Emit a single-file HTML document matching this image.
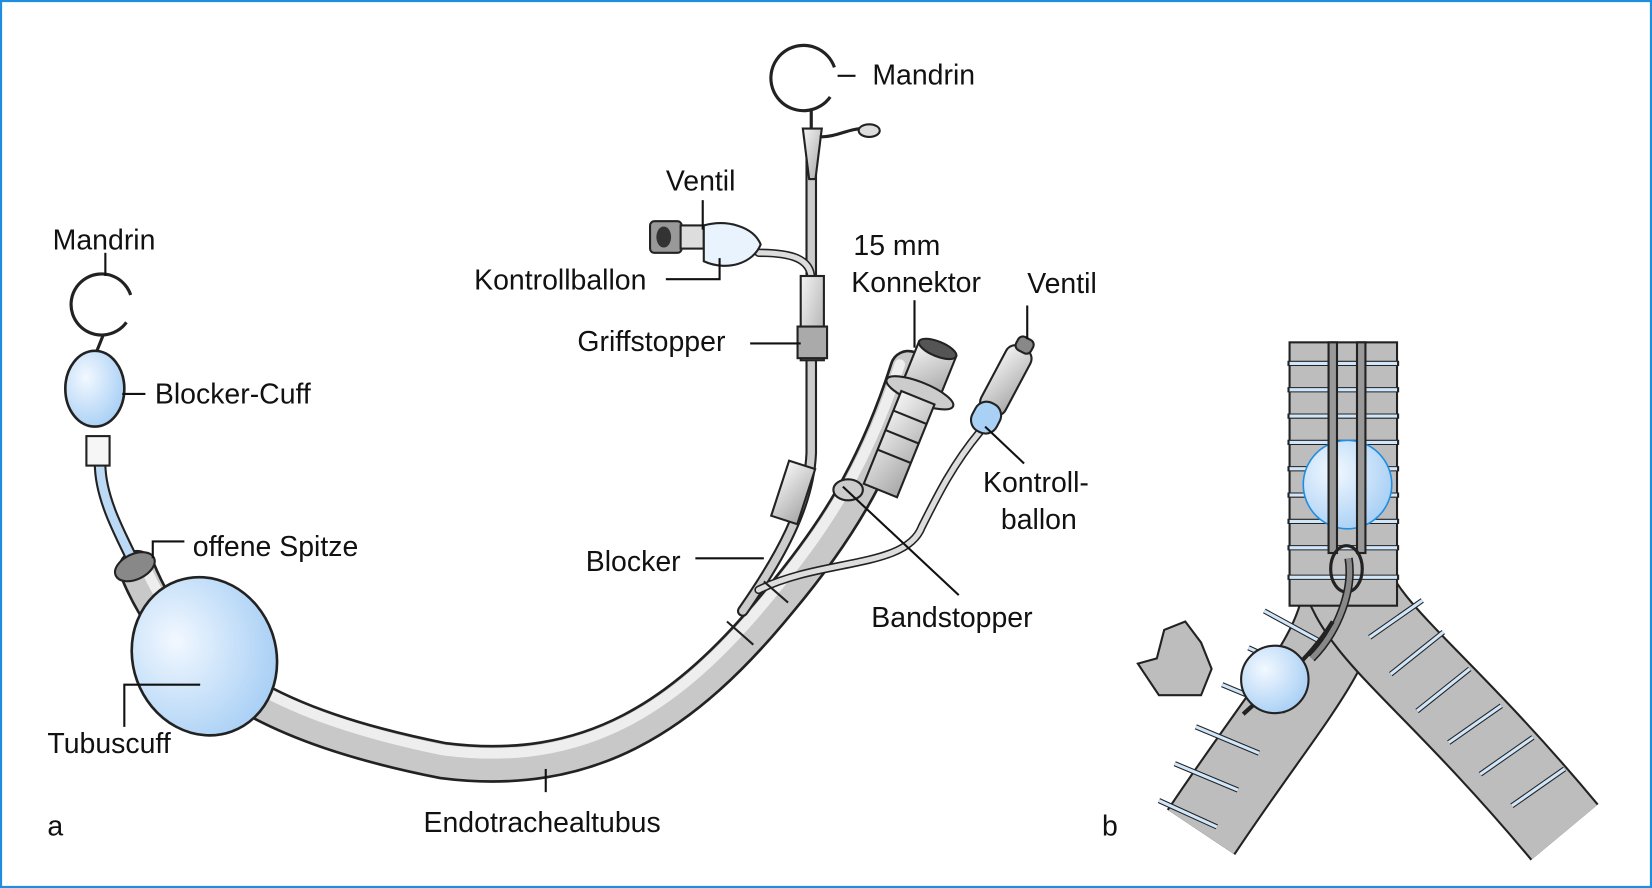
<!DOCTYPE html>
<html><head><meta charset="utf-8"><style>
html,body{margin:0;padding:0;background:#fff;}
svg{display:block;}
text{font-family:"Liberation Sans",sans-serif;font-size:27px;fill:#111;}
</style></head><body>
<svg width="1652" height="888" viewBox="0 0 1568 843" preserveAspectRatio="none" xmlns="http://www.w3.org/2000/svg">
<defs>
<linearGradient id="g" x1="0" y1="0" x2="1" y2="1"><stop offset="0" stop-color="#f4f4f4"/><stop offset="1" stop-color="#a8a8a8"/></linearGradient>
<radialGradient id="b" cx="0.35" cy="0.35" r="0.7"><stop offset="0" stop-color="#f2f8ff"/><stop offset="1" stop-color="#a9d0f5"/></radialGradient>
</defs>
<rect x="1" y="1" width="1566" height="841" fill="#fff" stroke="#1f8de0" stroke-width="2"/>
<g fill="none" stroke-linecap="round">
<path d="M130,540 C170,640 260,690 420,722 C560,740 650,680 740,570 C790,510 830,450 862,350" stroke="#222" stroke-width="36"/>
<path d="M130,540 C170,640 260,690 420,722 C560,740 650,680 740,570 C790,510 830,450 862,350" stroke="#c8c8c8" stroke-width="31"/>
<path d="M136,534 C176,630 264,680 420,712 C556,730 644,672 732,564 C782,504 822,444 854,346" stroke="#eeeeee" stroke-width="10"/>
<path d="M770,140 L770,430 C768,480 740,530 705,580" stroke="#222" stroke-width="11"/>
<path d="M770,140 L770,430 C768,480 740,530 705,580" stroke="#ccc" stroke-width="7"/>
<path d="M720,560 C780,530 860,540 875,500 C890,470 905,440 930,410" stroke="#222" stroke-width="8"/>
<path d="M720,560 C780,530 860,540 875,500 C890,470 905,440 930,410" stroke="#ddd" stroke-width="5"/>
<path d="M130,540 C110,500 95,470 95,440" stroke="#222" stroke-width="12"/>
<path d="M130,540 C110,500 95,470 95,440" stroke="#bcdaf6" stroke-width="8"/>
<path d="M720,240 C750,240 770,245 770,265" stroke="#222" stroke-width="8"/>
<path d="M720,240 C750,240 770,245 770,265" stroke="#ddd" stroke-width="5"/>
</g>
<ellipse cx="128" cy="538" rx="20" ry="12" transform="rotate(-25 128 538)" fill="#888" stroke="#222" stroke-width="2"/>
<ellipse cx="194" cy="623" rx="68" ry="76" transform="rotate(-20 194 623)" fill="url(#b)" stroke="#222" stroke-width="2.5"/>
<rect x="82" y="414" width="22" height="28" fill="#f6f6f6" stroke="#222" stroke-width="2"/>
<ellipse cx="90" cy="369" rx="28" ry="36" fill="url(#b)" stroke="#222" stroke-width="2.5"/>
<line x1="92" y1="333" x2="98" y2="318" stroke="#222" stroke-width="3"/>
<path d="M120,306 A29,29 0 1 1 124,280" fill="none" stroke="#222" stroke-width="3"/>
<path d="M788,92 A31,31 0 1 1 792,64" fill="none" stroke="#222" stroke-width="3"/>
<line x1="770" y1="104" x2="770" y2="125" stroke="#222" stroke-width="3"/>
<path d="M762,122 L780,122 L774,170 L768,170 Z" fill="url(#g)" stroke="#222" stroke-width="2"/>
<path d="M778,130 C795,130 805,122 820,122" fill="none" stroke="#222" stroke-width="3"/>
<ellipse cx="825" cy="124" rx="10" ry="6" fill="#ddd" stroke="#222" stroke-width="2"/>
<rect x="760" y="262" width="22" height="80" fill="url(#g)" stroke="#222" stroke-width="2"/>
<rect x="757" y="310" width="28" height="30" fill="#aaa" stroke="#222" stroke-width="2"/>
<rect x="740" y="440" width="26" height="55" transform="rotate(18 753 467)" fill="url(#g)" stroke="#222" stroke-width="2"/>
<rect x="617" y="210" width="30" height="30" rx="4" fill="#999" stroke="#222" stroke-width="2"/>
<ellipse cx="630" cy="225" rx="7" ry="10" fill="#333"/>
<rect x="646" y="214" width="22" height="22" fill="#ddd" stroke="#222" stroke-width="2"/>
<path d="M668,214 C690,208 715,215 722,232 C715,250 690,258 668,248 Z" fill="#e8f3fd" stroke="#222" stroke-width="2"/>
<g transform="rotate(22 860 400)">
<rect x="843" y="325" width="38" height="40" fill="url(#g)" stroke="#222" stroke-width="2"/>
<ellipse cx="862" cy="325" rx="19" ry="7" fill="#555" stroke="#222" stroke-width="2"/>
<ellipse cx="862" cy="370" rx="34" ry="10" fill="#ccc" stroke="#222" stroke-width="2"/>
<rect x="845" y="375" width="34" height="95" fill="url(#g)" stroke="#222" stroke-width="2"/>
<line x1="845" y1="395" x2="879" y2="395" stroke="#222" stroke-width="2"/>
<line x1="845" y1="415" x2="879" y2="415" stroke="#222" stroke-width="2"/>
<line x1="845" y1="435" x2="879" y2="435" stroke="#222" stroke-width="2"/>
</g>
<ellipse cx="805" cy="465" rx="14" ry="10" fill="#ccc" stroke="#222" stroke-width="2"/>
<g transform="rotate(28 950 370)">
<rect x="937" y="325" width="26" height="70" rx="10" fill="url(#g)" stroke="#222" stroke-width="2"/>
<rect x="937" y="385" width="26" height="30" rx="12" fill="#a9d0f5" stroke="#222" stroke-width="2"/>
<rect x="942" y="315" width="16" height="14" rx="5" fill="#888" stroke="#222" stroke-width="2"/>
</g>
<line x1="690" y1="590" x2="715" y2="612" stroke="#222" stroke-width="2"/>
<line x1="725" y1="552" x2="748" y2="572" stroke="#222" stroke-width="2"/>
<g stroke="#111" stroke-width="2" fill="none">
<line x1="795" y1="72" x2="812" y2="72"/>
<line x1="667" y1="190" x2="667" y2="218"/>
<polyline points="632,265 683,265 683,245"/>
<line x1="712" y1="326" x2="760" y2="326"/>
<line x1="868" y1="285" x2="868" y2="330"/>
<line x1="975" y1="290" x2="975" y2="322"/>
<line x1="100" y1="240" x2="100" y2="262"/>
<line x1="116" y1="374" x2="138" y2="374"/>
<polyline points="145,530 145,514 175,514"/>
<line x1="660" y1="530" x2="725" y2="530"/>
<line x1="935" y1="405" x2="972" y2="440"/>
<line x1="800" y1="462" x2="910" y2="565"/>
<polyline points="118,690 118,650 190,650"/>
<line x1="518" y1="730" x2="518" y2="752"/>
</g>
<!-- trachea -->
<g stroke-linecap="butt" fill="none">
<path d="M1275,560 C1270,620 1220,670 1140,790" stroke="#222" stroke-width="78"/>
<path d="M1275,560 C1270,620 1220,670 1140,790" stroke="#bdbdbd" stroke-width="74"/>
<path d="M1275,540 C1290,600 1360,640 1485,790" stroke="#222" stroke-width="84"/>
<path d="M1275,540 C1290,600 1360,640 1485,790" stroke="#bdbdbd" stroke-width="80"/>
</g>
<rect x="1224" y="325" width="102" height="250" fill="#bdbdbd" stroke="#222" stroke-width="2"/>
<g stroke="#222" stroke-width="5">
<line x1="1222" y1="345" x2="1328" y2="345"/><line x1="1222" y1="370" x2="1328" y2="370"/>
<line x1="1222" y1="395" x2="1328" y2="395"/><line x1="1222" y1="420" x2="1328" y2="420"/>
<line x1="1222" y1="445" x2="1328" y2="445"/><line x1="1222" y1="470" x2="1328" y2="470"/>
<line x1="1222" y1="495" x2="1328" y2="495"/><line x1="1222" y1="520" x2="1328" y2="520"/>
<line x1="1222" y1="548" x2="1328" y2="548"/>
<line x1="1200" y1="580" x2="1255" y2="610"/><line x1="1185" y1="615" x2="1240" y2="640"/>
<line x1="1160" y1="650" x2="1220" y2="675"/><line x1="1135" y1="690" x2="1195" y2="715"/>
<line x1="1115" y1="725" x2="1175" y2="750"/><line x1="1100" y1="760" x2="1155" y2="785"/>
<line x1="1300" y1="605" x2="1350" y2="570"/><line x1="1320" y1="640" x2="1370" y2="600"/>
<line x1="1345" y1="675" x2="1395" y2="635"/><line x1="1375" y1="705" x2="1425" y2="670"/>
<line x1="1405" y1="735" x2="1455" y2="700"/><line x1="1435" y1="765" x2="1485" y2="730"/>
</g>
<g stroke="#cfe6fb" stroke-width="3">
<line x1="1224" y1="345" x2="1326" y2="345"/><line x1="1224" y1="370" x2="1326" y2="370"/>
<line x1="1224" y1="395" x2="1326" y2="395"/><line x1="1224" y1="420" x2="1326" y2="420"/>
<line x1="1224" y1="445" x2="1326" y2="445"/><line x1="1224" y1="470" x2="1326" y2="470"/>
<line x1="1224" y1="495" x2="1326" y2="495"/><line x1="1224" y1="520" x2="1326" y2="520"/>
<line x1="1224" y1="548" x2="1326" y2="548"/>
<line x1="1200" y1="580" x2="1255" y2="610"/><line x1="1185" y1="615" x2="1240" y2="640"/>
<line x1="1160" y1="650" x2="1220" y2="675"/><line x1="1135" y1="690" x2="1195" y2="715"/>
<line x1="1115" y1="725" x2="1175" y2="750"/><line x1="1100" y1="760" x2="1155" y2="785"/>
<line x1="1300" y1="605" x2="1350" y2="570"/><line x1="1320" y1="640" x2="1370" y2="600"/>
<line x1="1345" y1="675" x2="1395" y2="635"/><line x1="1375" y1="705" x2="1425" y2="670"/>
<line x1="1405" y1="735" x2="1455" y2="700"/><line x1="1435" y1="765" x2="1485" y2="730"/>
</g>
<circle cx="1279" cy="460" r="42" fill="url(#b)" stroke="#1f8de0" stroke-width="1.5"/>
<rect x="1261" y="325" width="8" height="200" fill="#999" stroke="#222" stroke-width="2"/>
<rect x="1288" y="325" width="8" height="200" fill="#999" stroke="#222" stroke-width="2"/>
<ellipse cx="1278" cy="540" rx="15" ry="22" fill="none" stroke="#222" stroke-width="3"/>
<path d="M1280,530 C1285,560 1270,600 1245,625" fill="none" stroke="#222" stroke-width="8"/>
<path d="M1280,530 C1285,560 1270,600 1245,625" fill="none" stroke="#888" stroke-width="5"/>
<path d="M1265,590 C1240,630 1210,650 1180,678" fill="none" stroke="#222" stroke-width="4"/>
<circle cx="1210" cy="645" r="32" fill="url(#b)" stroke="#222" stroke-width="2"/>
<path d="M1080,630 L1098,625 L1105,598 L1125,590 L1140,610 L1150,635 L1140,660 L1100,660 Z" fill="#bdbdbd" stroke="#222" stroke-width="2"/>
<text x="828" y="80">Mandrin</text>
<text x="632" y="181">Ventil</text>
<text x="810" y="242">15 mm</text>
<text x="808" y="277">Konnektor</text>
<text x="975" y="278">Ventil</text>
<text x="450" y="275">Kontrollballon</text>
<text x="548" y="333">Griffstopper</text>
<text x="50" y="237">Mandrin</text>
<text x="147" y="383">Blocker-Cuff</text>
<text x="183" y="528">offene Spitze</text>
<text x="556" y="542">Blocker</text>
<text x="933" y="467">Kontroll-</text>
<text x="950" y="502">ballon</text>
<text x="827" y="595">Bandstopper</text>
<text x="45" y="715">Tubuscuff</text>
<text x="402" y="790">Endotrachealtubus</text>
<text x="45" y="793">a</text>
<text x="1046" y="793">b</text>
</svg>
</body></html>
